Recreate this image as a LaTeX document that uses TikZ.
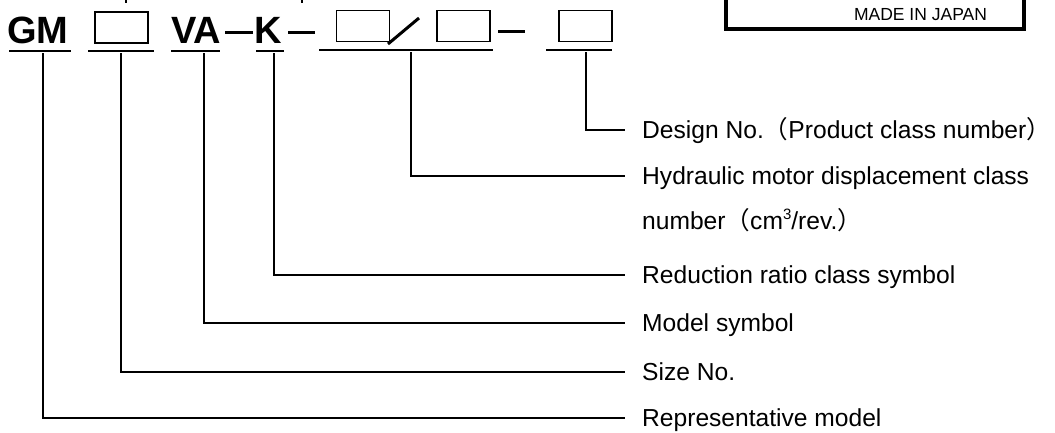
\documentclass[tikz,border=0pt]{standalone}
\usepackage{fontspec}
\setmainfont{Liberation Sans}
\newfontfamily\cjk{Noto Sans CJK JP}
\begin{document}
\begin{tikzpicture}[x=1pt,y=-1pt,
  lab/.style={anchor=west, inner xsep=17pt, inner ysep=0pt, text height=17.6pt, text depth=0pt, font=\fontsize{24.6}{30}\selectfont},
  code/.style={anchor=base west, inner sep=0pt, font=\fontsize{38}{42}\selectfont\bfseries},
  conn/.style={line width=2pt},
  uline/.style={line width=2.6pt},
  dashline/.style={line width=3pt},
  slot/.style={draw, line width=1.8pt, inner sep=0pt, minimum width=53pt, minimum height=31pt},
  plate/.style={line width=4.5pt},
  platetext/.style={anchor=base, inner sep=0pt, font=\fontsize{17.5}{20}\selectfont}]
\useasboundingbox (0,0) rectangle (1055,432);

% name plate (cut off at top)
\draw[plate] (726,-5) |- (1024,29) -- (1024,-5);
\node[platetext] (made) at (920.5,20) {MADE\ IN\ JAPAN};

% fragments at top edge
\draw[conn] (126,-1) -- (126,3);
\draw[conn] (302,-1) -- (302,3);

% model code
\node[code] (gm) at (7,43) {GM};
\node[slot] (b1) at (121.5,27.5) {};
\node[code] (va) at (171,43) {VA};
\draw[dashline] (225,32) -- (253,32);
\node[code] (k) at (254,43) {K};
\draw[dashline] (288,32) -- (315,32);
\node[slot] (b2) at (363,26) {};
\draw[dashline] (388,44) -- (419,18);
\node[slot] (b3) at (463.5,26) {};
\draw[dashline] (498,31) -- (525,31);
\node[slot] (b4) at (585.5,26) {};

% underlines
\draw[uline] (9,51) -- (71,51);
\draw[uline] (88,51) -- (154,51);
\draw[uline] (171,51) -- (220,51);
\draw[uline] (256,51) -- (284,51);
\draw[uline] (319,50) -- (493,50);
\draw[uline] (546,50) -- (612,50);

% connector start points
\coordinate (uGM) at (43,53);
\coordinate (uSize) at (121,53);
\coordinate (uVA) at (204,53);
\coordinate (uK) at (274,53);
\coordinate (uHyd) at (411,52);
\coordinate (uDes) at (586,52);

% labels
\node[lab] (des) at (625,130) {Design No.{\cjk（}Product class number\rlap{\cjk）}};
\node[lab] (hyd) at (625,176) {Hydraulic motor displacement class};
\node[lab] (hyd2) at (625,221) {number{\cjk（}cm\raisebox{0.42em}{\fontsize{15}{15}\selectfont 3}/rev.\rlap{\cjk）}};
\node[lab] (red) at (625,275) {Reduction ratio class symbol};
\node[lab] (mod) at (625,323) {Model symbol};
\node[lab] (size) at (625,372) {Size No.};
\node[lab] (rep) at (625,418) {Representative model};

% connectors
\draw[conn] (uDes) |- (des.west);
\draw[conn] (uHyd) |- (hyd.west);
\draw[conn] (uK) |- (red.west);
\draw[conn] (uVA) |- (mod.west);
\draw[conn] (uSize) |- (size.west);
\draw[conn] (uGM) |- (rep.west);
\end{tikzpicture}
\end{document}
